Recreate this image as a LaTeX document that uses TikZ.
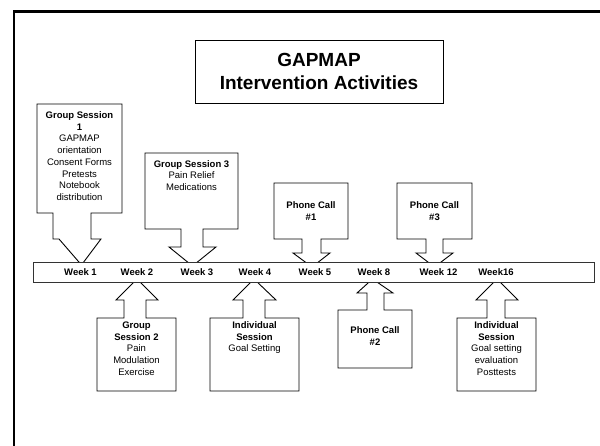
\documentclass[tikz,border=0pt]{standalone}
\usepackage{fontspec}
\setmainfont{Liberation Sans}
\begin{document}
\begin{tikzpicture}[x=1pt,y=-1pt,
  callout/.style={draw=black, line width=0.9pt, fill=white, line join=miter},
  barbox/.style={draw=black!80, line width=1.2pt, fill=white, inner sep=0pt, anchor=north west, minimum width=561pt, minimum height=20pt},
  lbl/.style={font=\fontsize{9.5}{11.7}\selectfont\bfseries, inner sep=0pt},
  txt/.style={font=\fontsize{9.5}{11.7}\selectfont, align=center, inner sep=0pt},
  titlebox/.style={draw=black, line width=0.9pt, font=\fontsize{19}{23.5}\selectfont\bfseries, align=center, minimum width=248pt, minimum height=63pt, inner sep=0pt},
  frame/.style={draw=black, line width=2.5pt}
]
\useasboundingbox (0,0) rectangle (600,446);
\fill[white] (0,0) rectangle (600,446);
% outer frame
\draw[frame] (14,450) -- (14,11.7) -- (604,11.7);
% title
\node[titlebox] (title) at (319,71.5) {GAPMAP\\Intervention Activities};
% down callouts
\draw[callout] (37,104) -- (122,104) -- (122,213) -- (91,213) -- (91,239) -- (101,239) -- (81.5,265) -- (59,239) -- (53,239) -- (53,213) -- (37,213) -- cycle;
\draw[callout] (145,153) -- (238,153) -- (238,229) -- (203,229) -- (203,247) -- (216,247) -- (192.5,266) -- (169,247) -- (181,247) -- (181,229) -- (145,229) -- cycle;
\draw[callout] (274,183) -- (348,183) -- (348,239) -- (321,239) -- (321,253) -- (330,253) -- (312,267) -- (293,253) -- (302,253) -- (302,239) -- (274,239) -- cycle;
\draw[callout] (397,183) -- (472,183) -- (472,239) -- (443,239) -- (443,253) -- (453,253) -- (434.5,267) -- (416,253) -- (426,253) -- (426,239) -- (397,239) -- cycle;
% up callouts
\draw[callout] (97,391) -- (176,391) -- (176,318) -- (146,318) -- (146,300) -- (158,300) -- (137,279) -- (116,300) -- (124,300) -- (124,318) -- (97,318) -- cycle;
\draw[callout] (210,391) -- (299,391) -- (299,318) -- (265,318) -- (265,300) -- (276,300) -- (254,279) -- (233,300) -- (243,300) -- (243,318) -- (210,318) -- cycle;
\draw[callout] (338,368) -- (412,368) -- (412,310) -- (384,310) -- (384,293) -- (393,293) -- (372.5,279) -- (357,293) -- (367,293) -- (367,310) -- (338,310) -- cycle;
\draw[callout] (457,391) -- (536,391) -- (536,318) -- (505,318) -- (505,300) -- (518,300) -- (497,279) -- (476,300) -- (487,300) -- (487,318) -- (457,318) -- cycle;
% timeline bar
\node[barbox] (bar) at (33,262) {};
\node[lbl] (w1) at (80.5,272.5) {Week 1};
\node[lbl] (w2) at (137,272.5) {Week 2};
\node[lbl] (w3) at (197,272.5) {Week 3};
\node[lbl] (w4) at (255,272.5) {Week 4};
\node[lbl] (w5) at (315,272.5) {Week 5};
\node[lbl] (w8) at (374,272.5) {Week 8};
\node[lbl] (w12) at (438.5,272.5) {Week 12};
\node[lbl] (w16) at (496,272.5) {Week16};
% callout texts
\node[txt, anchor=north] (gs1) at (79.5,111.5) {\textbf{Group Session}\\\textbf{1}\\GAPMAP\\orientation\\Consent Forms\\Pretests\\Notebook\\distribution};
\node[txt, anchor=north] (gs3) at (191.5,160) {\textbf{Group Session 3}\\Pain Relief\\Medications};
\node[txt] (pc1) at (311,211) {\textbf{Phone Call}\\\textbf{\#1}};
\node[txt] (pc3) at (434.5,211) {\textbf{Phone Call}\\\textbf{\#3}};
\node[txt, anchor=north] (gs2) at (136.5,321.5) {\textbf{Group}\\\textbf{Session 2}\\Pain\\Modulation\\Exercise};
\node[txt, anchor=north] (is4) at (254.5,321.5) {\textbf{Individual}\\\textbf{Session}\\Goal Setting};
\node[txt] (pc2) at (375,336) {\textbf{Phone Call}\\\textbf{\#2}};
\node[txt, anchor=north] (is16) at (496.5,321.5) {\textbf{Individual}\\\textbf{Session}\\Goal setting\\evaluation\\Posttests};
\end{tikzpicture}
\end{document}
